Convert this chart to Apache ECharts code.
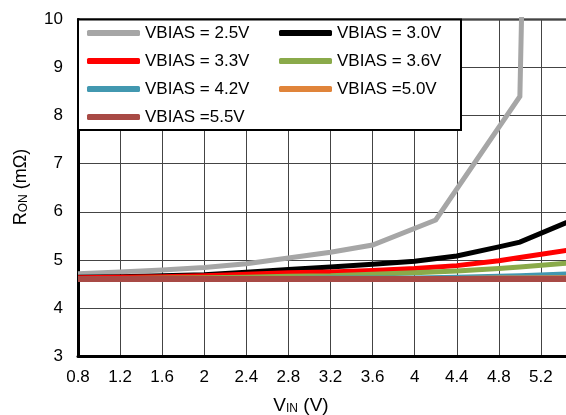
<!DOCTYPE html>
<html>
<head>
<meta charset="utf-8">
<script src="https://cdn.jsdelivr.net/npm/echarts@6/dist/echarts.min.js"></script>
<style>html,body{margin:0;padding:0;background:#fff}#c{width:566px;height:415px}</style>
</head>
<body>
<div id="c"></div>
<script>
// ---- data ----
var xTicks = [0.8, 1.2, 1.6, 2.0, 2.4, 2.8, 3.2, 3.6, 4.0, 4.4, 4.8, 5.2];
var yTicks = [3, 4, 5, 6, 7, 8, 9, 10];
var vinGray = [0.8, 1.2, 1.6, 2.0, 2.4, 2.8, 3.2, 3.6, 4.2, 5.0, 5.03];
var ron25 = [4.71, 4.75, 4.79, 4.84, 4.92, 5.04, 5.16, 5.31, 5.83, 8.40, 11.5];
var vin = [0.8, 1.2, 1.6, 2.0, 2.4, 2.8, 3.2, 3.6, 4.0, 4.4, 4.8, 5.0, 5.6];
var ron30 = [4.64, 4.65, 4.67, 4.69, 4.74, 4.80, 4.85, 4.91, 4.97, 5.08, 5.27, 5.37, 5.92];
var ron33 = [4.63, 4.64, 4.65, 4.67, 4.70, 4.73, 4.75, 4.78, 4.82, 4.88, 4.98, 5.05, 5.25];
var ron36 = [4.61, 4.61, 4.62, 4.63, 4.64, 4.66, 4.67, 4.70, 4.73, 4.77, 4.82, 4.85, 4.96];
var ron42 = [4.61, 4.61, 4.61, 4.61, 4.61, 4.61, 4.62, 4.62, 4.62, 4.64, 4.66, 4.67, 4.72];
var ron50 = [4.60, 4.60, 4.60, 4.60, 4.60, 4.60, 4.60, 4.61, 4.61, 4.61, 4.62, 4.62, 4.63];
var ron55 = [4.60, 4.60, 4.60, 4.60, 4.60, 4.60, 4.60, 4.60, 4.60, 4.60, 4.60, 4.60, 4.60];
var names = ['VBIAS = 2.5V', 'VBIAS = 3.0V', 'VBIAS = 3.3V', 'VBIAS = 3.6V', 'VBIAS = 4.2V', 'VBIAS =5.0V', 'VBIAS =5.5V'];
var colors = ['#A6A6A6', '#000000', '#FF0000', '#8AAA4A', '#4298B0', '#E0843A', '#A84A45'];

function zip(xs, ys) { return xs.map(function (x, i) { return [x, ys[i]]; }); }
var seriesData = [zip(vinGray, ron25), zip(vin, ron30), zip(vin, ron33), zip(vin, ron36), zip(vin, ron42), zip(vin, ron50), zip(vin, ron55)];

var FONT = '"Liberation Sans", Arial, sans-serif';
var chart = echarts.init(document.getElementById('c'), null, { renderer: 'canvas' });

var series = seriesData.map(function (d, i) {
  return {
    name: names[i], type: 'line', data: d, showSymbol: false, symbol: 'none',
    clip: true, z: 2,
    lineStyle: { color: colors[i], width: i === 6 ? 6 : 5, cap: 'butt', join: 'miter' },
    itemStyle: { color: colors[i] },
    emphasis: { disabled: true }, animation: false
  };
});

var legendCommon = {
  orient: 'vertical', padding: 0, itemGap: 8, itemWidth: 53, itemHeight: 6,
  icon: 'roundRect', z: 5, selectedMode: false,
  textStyle: { fontFamily: FONT, fontSize: 17, color: '#000', lineHeight: 20 }
};

chart.setOption({
  animation: false,
  backgroundColor: '#fff',
  grid: { left: 78, top: 19.5, bottom: 59, width: 505, outerBoundsMode: 'none', containLabel: false, show: true, borderColor: '#000', borderWidth: 2, backgroundColor: 'transparent' },
  xAxis: {
    type: 'value', min: 0.8, max: 5.6, interval: 0.4,
    axisLine: { show: true, lineStyle: { color: '#000', width: 3 } },
    axisTick: { show: false },
    splitLine: { show: true, lineStyle: { color: '#444', width: 1 } },
    axisLabel: {
      margin: 13, fontFamily: FONT, fontSize: 17, color: '#000',
      formatter: function (v) {
        for (var i = 0; i < xTicks.length; i++) if (Math.abs(xTicks[i] - v) < 1e-6) return String(xTicks[i]);
        return '';
      }
    }
  },
  yAxis: {
    type: 'value', min: yTicks[0], max: yTicks[yTicks.length - 1], interval: 1,
    axisLine: { show: true, lineStyle: { color: '#000', width: 3 } },
    axisTick: { show: false },
    splitLine: { show: true, lineStyle: { color: '#444', width: 1 } },
    axisLabel: { margin: 15, fontFamily: FONT, fontSize: 17, color: '#000' }
  },
  legend: [
    Object.assign({}, legendCommon, { left: 87, top: 23, data: [names[0], names[2], names[4], names[6]] }),
    Object.assign({}, legendCommon, { left: 279, top: 23, data: [names[1], names[3], names[5]] })
  ],
  graphic: [
    { type: 'rect', z: 4, shape: { x: 78, y: 19.5, width: 383, height: 110.5 }, style: { fill: '#fff', stroke: '#000', lineWidth: 2 } },
    {
      type: 'text', z: 5, x: 301, y: 404,
      style: {
        text: '{a|V}{b|IN}{a| (V)}', align: 'center', verticalAlign: 'middle',
        rich: {
          a: { fontFamily: FONT, fontSize: 19, color: '#000', lineHeight: 22, verticalAlign: 'bottom' },
          b: { fontFamily: FONT, fontSize: 12, color: '#000', lineHeight: 22, verticalAlign: 'bottom' }
        }
      }
    },
    {
      type: 'text', z: 5, x: 19, y: 187, rotation: Math.PI / 2,
      style: {
        text: '{a|R}{b|ON}{a| (mΩ)}', align: 'center', verticalAlign: 'middle',
        rich: {
          a: { fontFamily: FONT, fontSize: 18, color: '#000', lineHeight: 22, verticalAlign: 'bottom' },
          b: { fontFamily: FONT, fontSize: 12, color: '#000', lineHeight: 22, verticalAlign: 'bottom' }
        }
      }
    }
  ],
  series: series
});
</script>
</body>
</html>
